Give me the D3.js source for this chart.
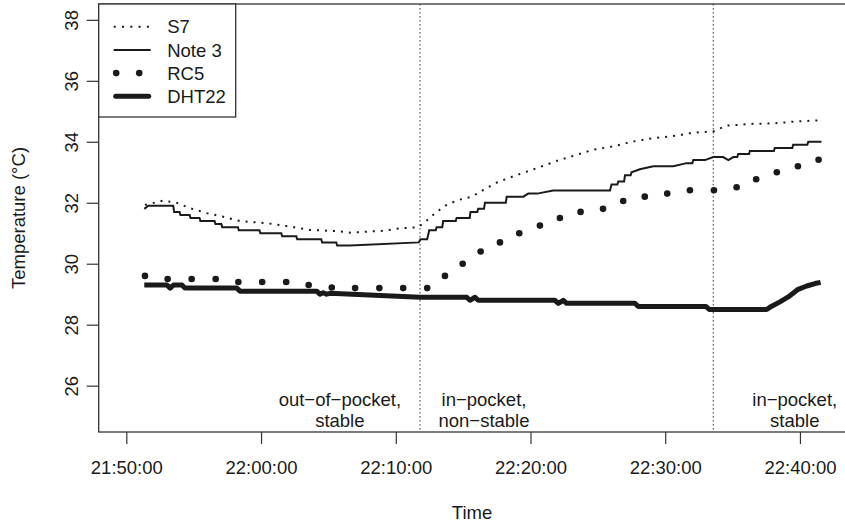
<!DOCTYPE html>
<html>
<head>
<meta charset="utf-8">
<script src="https://cdn.jsdelivr.net/npm/d3@7"></script>
<style>
  html, body { margin: 0; padding: 0; background: #fff; }
  svg text { font-family: "Liberation Sans", Arial, Helvetica, sans-serif; fill: #1a1a1a; }
</style>
</head>
<body>
<div id="chart"></div>
<script>
// values
const seriesNames = ["S7", "Note 3", "RC5", "DHT22"];

const s7Times = ["21:51:23", "21:52:45", "21:53:44", "21:54:44", "21:55:58", "21:57:12", "21:58:26", "22:00:25",
  "22:02:09", "22:03:38", "22:05:37", "22:06:36", "22:09:04", "22:10:19", "22:11:40", "22:12:18", "22:13:02",
  "22:13:47", "22:14:38", "22:15:38", "22:16:30", "22:17:29", "22:18:29", "22:19:43", "22:20:57", "22:22:11",
  "22:23:25", "22:24:39", "22:26:08", "22:27:38", "22:29:07", "22:30:51", "22:32:05", "22:33:34", "22:34:33",
  "22:36:32", "22:38:01", "22:39:45", "22:41:21"];
const s7Temps = [31.93, 32.07, 32.0, 31.82, 31.66, 31.54, 31.4, 31.33, 31.22, 31.11, 31.07, 31.02, 31.08, 31.16,
  31.2, 31.42, 31.7, 31.93, 32.09, 32.2, 32.42, 32.66, 32.83, 33.02, 33.21, 33.41, 33.57, 33.74, 33.85, 34.01,
  34.12, 34.2, 34.3, 34.34, 34.53, 34.59, 34.6, 34.67, 34.7];

const note3Times = ["21:51:20", "21:51:38", "21:53:29", "21:53:33", "21:53:57", "21:54:01", "21:54:42", "21:54:46",
  "21:55:26", "21:55:30", "21:56:33", "21:56:37", "21:57:03", "21:57:07", "21:58:17", "21:58:21", "21:59:53",
  "21:59:57", "22:01:30", "22:01:34", "22:02:37", "22:02:41", "22:04:28", "22:04:32", "22:05:35", "22:05:39",
  "22:06:36", "22:11:43", "22:11:50", "22:12:20", "22:12:29", "22:12:58", "22:13:02", "22:13:27", "22:13:31",
  "22:14:27", "22:14:31", "22:15:29", "22:15:33", "22:16:03", "22:16:07", "22:16:33", "22:16:37", "22:18:10",
  "22:18:14", "22:19:28", "22:19:50", "22:20:30", "22:21:41", "22:25:54", "22:26:01", "22:26:27", "22:26:31",
  "22:26:57", "22:27:01", "22:27:26", "22:27:30", "22:28:07", "22:29:07", "22:30:36", "22:31:35", "22:32:01",
  "22:32:05", "22:32:57", "22:33:34", "22:34:18", "22:34:41", "22:35:03", "22:35:21", "22:35:25", "22:36:13",
  "22:36:17", "22:38:04", "22:38:08", "22:39:26", "22:39:30", "22:40:33", "22:40:37", "22:41:36"];
const note3Temps = [31.8, 31.9, 31.9, 31.7, 31.7, 31.6, 31.6, 31.5, 31.5, 31.4, 31.4, 31.3, 31.3, 31.2, 31.2,
  31.1, 31.1, 31.0, 31.0, 30.9, 30.9, 30.8, 30.8, 30.7, 30.7, 30.6, 30.6, 30.7, 30.8, 30.8, 31.1, 31.1, 31.2,
  31.2, 31.4, 31.4, 31.5, 31.5, 31.7, 31.7, 31.8, 31.8, 32.0, 32.0, 32.2, 32.2, 32.3, 32.3, 32.4, 32.4, 32.6,
  32.6, 32.7, 32.7, 32.9, 32.9, 33.0, 33.1, 33.2, 33.2, 33.3, 33.3, 33.4, 33.4, 33.5, 33.5, 33.4, 33.5, 33.5,
  33.6, 33.6, 33.7, 33.7, 33.8, 33.8, 33.9, 33.9, 34.0, 34.0];

const rc5Times = ["21:51:23", "21:53:04", "21:54:51", "21:56:38", "21:58:19", "22:00:05", "22:01:52", "22:03:32",
  "22:05:15", "22:06:59", "22:08:47", "22:10:33", "22:12:20", "22:13:39", "22:14:58", "22:16:18", "22:17:44",
  "22:19:10", "22:20:42", "22:22:11", "22:23:43", "22:25:23", "22:26:53", "22:28:29", "22:30:09", "22:31:50",
  "22:33:37", "22:35:18", "22:36:45", "22:38:17", "22:39:51", "22:41:23"];
const rc5Temps = [29.6, 29.5, 29.5, 29.5, 29.4, 29.4, 29.4, 29.3, 29.22, 29.2, 29.2, 29.2, 29.2, 29.6, 30.0,
  30.4, 30.7, 31.0, 31.25, 31.5, 31.7, 31.8, 32.06, 32.2, 32.3, 32.41, 32.41, 32.51, 32.77, 33.0, 33.2, 33.41];

const dhtTimes = ["21:51:20", "21:53:01", "21:53:15", "21:53:30", "21:54:08", "21:54:21", "21:58:12", "21:58:26",
  "22:04:08", "22:04:22", "22:04:37", "22:04:52", "22:05:07", "22:11:48", "22:15:16", "22:15:30", "22:15:53",
  "22:16:07", "22:21:49", "22:22:04", "22:22:26", "22:22:41", "22:27:45", "22:28:00", "22:33:01", "22:33:16",
  "22:37:32", "22:37:46", "22:38:31", "22:39:08", "22:39:52", "22:40:30", "22:41:07", "22:41:32"];
const dhtTemps = [29.3, 29.3, 29.2, 29.3, 29.3, 29.2, 29.2, 29.1, 29.1, 29.0, 29.05, 29.0, 29.03, 28.9, 28.9,
  28.8, 28.9, 28.8, 28.8, 28.7, 28.8, 28.7, 28.7, 28.6, 28.6, 28.5, 28.5, 28.57, 28.75, 28.91, 29.16, 29.27,
  29.35, 29.39];

const yTicks = [26, 28, 30, 32, 34, 36, 38];
const xTickLabels = ["21:50:00", "22:00:00", "22:10:00", "22:20:00", "22:30:00", "22:40:00"];
const phaseBreaks = ["22:11:48", "22:33:34"];
const phaseLabelTimes = ["22:05:51", "22:16:33", "22:39:37"];
const phaseLabels = [["out\u2212of\u2212pocket,", "stable"], ["in\u2212pocket,", "non\u2212stable"], ["in\u2212pocket,", "stable"]];

const WIDTH = 845;
const HEIGHT = 526;
const PLOT = { left: 98.7, right: 845.3, top: 4, bottom: 432 };
const FONT_SIZE = 18.5;
const INK = "#1a1a1a";

const parseTime = d3.timeParse("%H:%M:%S");

const x = d3.scaleTime()
  .domain([parseTime("21:47:57"), parseTime("22:43:22")])
  .range([PLOT.left, PLOT.right]);

const y = d3.scaleLinear()
  .domain([24.48, 38.52])
  .range([PLOT.bottom, PLOT.top]);

function toPoints(times, temps) {
  return times.map((t, i) => ({ time: parseTime(t), temp: temps[i] }));
}

const svg = d3.select("#chart")
  .append("svg")
  .attr("width", WIDTH)
  .attr("height", HEIGHT)
  .attr("viewBox", `0 0 ${WIDTH} ${HEIGHT}`);

svg.append("rect").attr("width", WIDTH).attr("height", HEIGHT).attr("fill", "#fff");

const line = d3.line().x((d) => x(d.time)).y((d) => y(d.temp));

// phase separators
svg.append("g")
  .selectAll("line")
  .data(phaseBreaks)
  .enter()
  .append("line")
  .attr("x1", (t) => x(parseTime(t)))
  .attr("x2", (t) => x(parseTime(t)))
  .attr("y1", PLOT.top)
  .attr("y2", PLOT.bottom)
  .attr("stroke", "#333")
  .attr("stroke-width", 1)
  .attr("stroke-dasharray", "1.5 2.5");

// phase labels
const phaseGroup = svg.append("g");
phaseLabels.forEach((lines, i) => {
  const text = phaseGroup.append("text")
    .attr("text-anchor", "middle")
    .attr("font-size", FONT_SIZE);
  lines.forEach((ln, j) => {
    text.append("tspan")
      .attr("x", x(parseTime(phaseLabelTimes[i])))
      .attr("y", 406 + j * 21)
      .text(ln);
  });
});

// S7 dotted
svg.append("path")
  .datum(toPoints(s7Times, s7Temps))
  .attr("d", line)
  .attr("fill", "none")
  .attr("stroke", INK)
  .attr("stroke-width", 2)
  .attr("stroke-dasharray", "2 6");

// Note 3 solid
svg.append("path")
  .datum(toPoints(note3Times, note3Temps))
  .attr("d", line)
  .attr("fill", "none")
  .attr("stroke", INK)
  .attr("stroke-width", 2);

// DHT22 thick
svg.append("path")
  .datum(toPoints(dhtTimes, dhtTemps))
  .attr("d", line)
  .attr("fill", "none")
  .attr("stroke", INK)
  .attr("stroke-width", 5)
  .attr("stroke-linejoin", "round");

// RC5 points
svg.append("g")
  .selectAll("circle")
  .data(toPoints(rc5Times, rc5Temps))
  .enter()
  .append("circle")
  .attr("cx", (d) => x(d.time))
  .attr("cy", (d) => y(d.temp))
  .attr("r", 3.3)
  .attr("fill", INK);

// axes
const xAxis = svg.append("g")
  .attr("transform", `translate(0,${PLOT.bottom})`)
  .call(d3.axisBottom(x)
    .tickValues(xTickLabels.map(parseTime))
    .tickFormat(d3.timeFormat("%H:%M:%S"))
    .tickSize(12)
    .tickPadding(17));
xAxis.select(".domain").remove();
xAxis.selectAll("line").attr("stroke", "#333").attr("stroke-width", 1.2);
xAxis.selectAll("text").attr("font-size", FONT_SIZE).attr("fill", INK).style("font-family", null);

const yAxis = svg.append("g")
  .attr("transform", `translate(${PLOT.left},0)`)
  .call(d3.axisLeft(y).tickValues(yTicks).tickSize(12));
yAxis.select(".domain").remove();
yAxis.selectAll("line").attr("stroke", "#333").attr("stroke-width", 1.2);
yAxis.selectAll("text")
  .attr("x", null)
  .attr("dy", null)
  .attr("text-anchor", "middle")
  .attr("transform", "translate(-20.5,0) rotate(-90)")
  .attr("font-size", FONT_SIZE)
  .attr("fill", INK);
svg.selectAll(".tick text").attr("font-family", null);

// plot box
svg.append("rect")
  .attr("x", PLOT.left)
  .attr("y", PLOT.top)
  .attr("width", PLOT.right - PLOT.left + 2)
  .attr("height", PLOT.bottom - PLOT.top)
  .attr("fill", "none")
  .attr("stroke", "#333")
  .attr("stroke-width", 1.3);

// axis titles
svg.append("text")
  .attr("x", (PLOT.left + PLOT.right) / 2)
  .attr("y", 519)
  .attr("text-anchor", "middle")
  .attr("font-size", FONT_SIZE)
  .text("Time");

svg.append("text")
  .attr("transform", `translate(25,${(PLOT.top + PLOT.bottom) / 2}) rotate(-90)`)
  .attr("text-anchor", "middle")
  .attr("font-size", FONT_SIZE)
  .text("Temperature (\u00B0C)");

// legend
const legend = svg.append("g").attr("transform", `translate(${PLOT.left},${PLOT.top})`);
legend.append("rect")
  .attr("width", 137)
  .attr("height", 113)
  .attr("fill", "#fff")
  .attr("stroke", "#333")
  .attr("stroke-width", 1.3);

seriesNames.forEach((name, i) => {
  const cy = 22.7 + i * 23.2;
  const row = legend.append("g").attr("transform", `translate(0,${cy})`);
  if (name === "RC5") {
    [17.5, 40.5].forEach((cx) => {
      row.append("circle").attr("cx", cx).attr("cy", 0).attr("r", 3.3).attr("fill", INK);
    });
  } else {
    const seg = row.append("line")
      .attr("x1", 15).attr("x2", 52)
      .attr("y1", 0).attr("y2", 0)
      .attr("stroke", INK);
    if (name === "S7") seg.attr("stroke-width", 2).attr("stroke-dasharray", "2 6.3");
    if (name === "Note 3") seg.attr("stroke-width", 2);
    if (name === "DHT22") seg.attr("stroke-width", 5).attr("stroke-linecap", "round").attr("x1", 17).attr("x2", 50);
  }
  row.append("text")
    .attr("x", 68.5)
    .attr("y", 6.6)
    .attr("font-size", FONT_SIZE)
    .text(name);
});
</script>
</body>
</html>
